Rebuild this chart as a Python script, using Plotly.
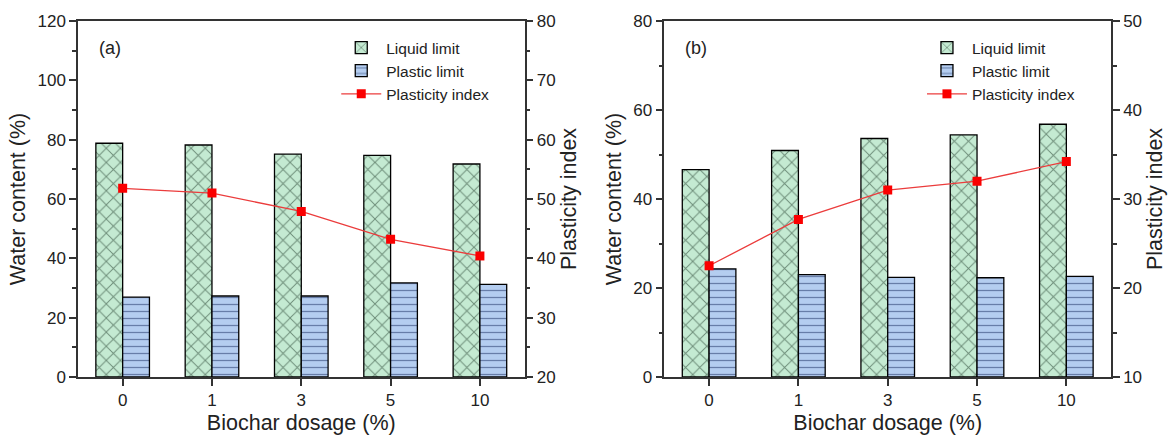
import plotly.graph_objects as go

dosage = ["0", "1", "3", "5", "10"]

# Panel (a)
ll_a = [78.8, 78.2, 75.1, 74.7, 71.8]
pl_a = [26.9, 27.3, 27.3, 31.7, 31.2]
pi_a = [51.8, 51.0, 47.9, 43.2, 40.4]

# Panel (b)
ll_b = [46.6, 50.9, 53.6, 54.4, 56.8]
pl_b = [24.3, 23.0, 22.4, 22.3, 22.6]
pi_b = [22.5, 27.7, 31.0, 32.0, 34.2]

FONT = "Liberation Sans, Arial, sans-serif"
GREEN_BG = "rgb(196,234,210)"
GREEN_FG = "rgb(20,45,30)"
BLUE_BG = "rgb(180,205,240)"
BLUE_FG = "rgb(25,45,95)"
RED = "rgb(235,60,60)"

fig = go.Figure()

def add_panel(ll, pl, pi, xa, ya, ya2, legend):
    fig.add_trace(go.Bar(
        x=dosage, y=ll, name="Liquid limit", xaxis=xa, yaxis=ya,
        legend=legend, offsetgroup="ll",
        marker=dict(color=GREEN_BG, line=dict(color="black", width=1.3),
                    pattern=dict(shape="x", bgcolor=GREEN_BG, fgcolor=GREEN_FG,
                                 size=10, solidity=0.18)),
    ))
    fig.add_trace(go.Bar(
        x=dosage, y=pl, name="Plastic limit", xaxis=xa, yaxis=ya,
        legend=legend, offsetgroup="pl",
        marker=dict(color=BLUE_BG, line=dict(color="black", width=1.3),
                    pattern=dict(shape="-", bgcolor=BLUE_BG, fgcolor=BLUE_FG,
                                 size=7, solidity=0.18)),
    ))
    fig.add_trace(go.Scatter(
        x=dosage, y=pi, name="Plasticity index", xaxis=xa, yaxis=ya2,
        legend=legend, mode="lines+markers",
        line=dict(color=RED, width=1.3),
        marker=dict(symbol="square", color="rgb(250,0,0)", size=9),
    ))

add_panel(ll_a, pl_a, pi_a, "x", "y", "y2", "legend")
add_panel(ll_b, pl_b, pi_b, "x2", "y3", "y4", "legend2")

axis_common = dict(
    showline=True, linecolor="#333", linewidth=1.5,
    ticks="outside", ticklen=7, tickwidth=1.5, tickcolor="#333",
    tickfont=dict(family=FONT, size=17, color="#222"),
    showgrid=False, zeroline=False,
)
title_font = dict(family=FONT, size=21.5, color="#222")

dom_a = [0.0, 0.4323]
dom_b = [0.5677, 1.0]

legend_font = dict(family=FONT, size=15.5, color="#222")

fig.update_layout(
    width=1175, height=443,
    margin=dict(l=78, r=63, t=18, b=65),
    paper_bgcolor="white", plot_bgcolor="white",
    barmode="group", bargap=0.4, bargroupgap=0,
    xaxis=dict(domain=dom_a, anchor="y", type="category", mirror=True,
               title=dict(text="Biochar dosage (%)", font=title_font, standoff=6),
               **axis_common),
    yaxis=dict(domain=[0, 1], anchor="x", range=[0, 120], dtick=20,
               minor=dict(dtick=10, ticks="outside", ticklen=4, tickcolor="#333"),
               title=dict(text="Water content (%)", font=title_font, standoff=6),
               **axis_common),
    yaxis2=dict(overlaying="y", anchor="x", side="right", range=[20, 80], dtick=10,
                minor=dict(dtick=5, ticks="outside", ticklen=4, tickcolor="#333"),
                title=dict(text="Plasticity index", font=title_font, standoff=6),
                **axis_common),
    xaxis2=dict(domain=dom_b, anchor="y3", type="category", mirror=True,
                title=dict(text="Biochar dosage (%)", font=title_font, standoff=6),
                **axis_common),
    yaxis3=dict(domain=[0, 1], anchor="x2", range=[0, 80], dtick=20,
                minor=dict(dtick=10, ticks="outside", ticklen=4, tickcolor="#333"),
                title=dict(text="Water content (%)", font=title_font, standoff=6),
                **axis_common),
    yaxis4=dict(overlaying="y3", anchor="x2", side="right", range=[10, 50], dtick=10,
                minor=dict(dtick=5, ticks="outside", ticklen=4, tickcolor="#333"),
                title=dict(text="Plasticity index", font=title_font, standoff=6),
                **axis_common),
    legend=dict(x=0.250, y=0.972, xanchor="left", yanchor="top",
                bgcolor="rgba(0,0,0,0)", font=legend_font,
                tracegroupgap=0, itemwidth=40),
    legend2=dict(x=0.817, y=0.972, xanchor="left", yanchor="top",
                 bgcolor="rgba(0,0,0,0)", font=legend_font,
                 tracegroupgap=0, itemwidth=40),
    annotations=[
        dict(text="(a)", xref="x domain", yref="y domain", x=0.042, y=0.925,
             xanchor="left", yanchor="middle", showarrow=False,
             font=dict(family=FONT, size=18, color="#222")),
        dict(text="(b)", xref="x2 domain", yref="y3 domain", x=0.042, y=0.925,
             xanchor="left", yanchor="middle", showarrow=False,
             font=dict(family=FONT, size=18, color="#222")),
    ],
)

fig.write_html("out.html")
